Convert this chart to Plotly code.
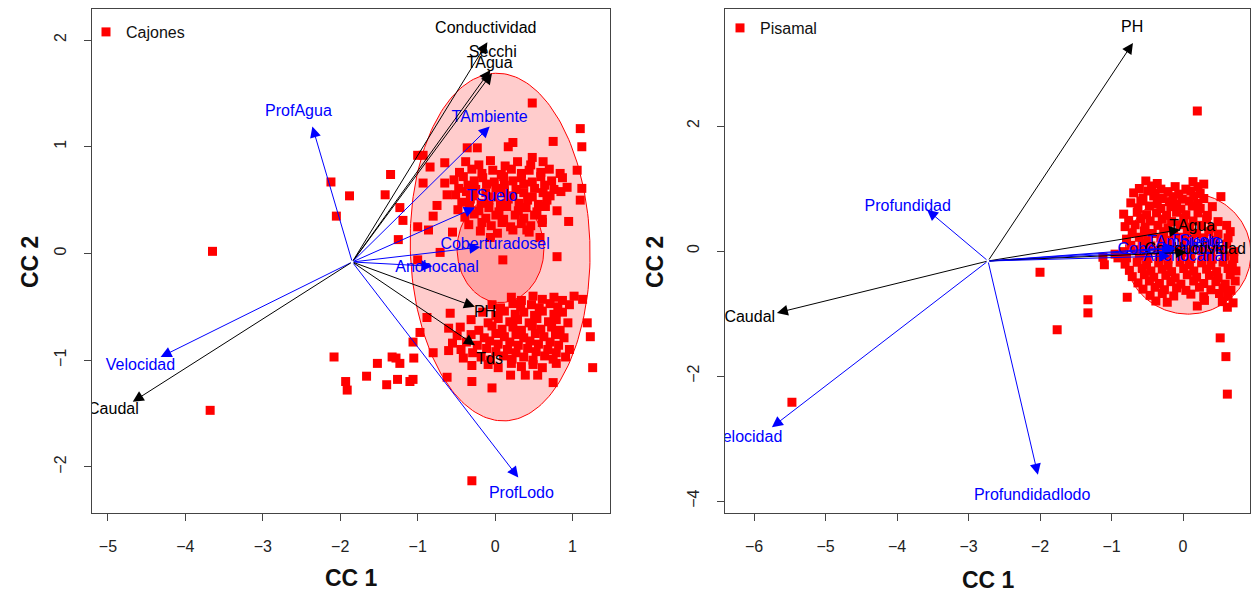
import numpy as np
import plotly.graph_objects as go

W, H = 1253, 592
FONT = "Liberation Sans, Arial, sans-serif"
RED = "#FF0000"
BLACK = "#000000"
BLUE = "#0000FF"

# ---------------- Data: Cajones (left panel) ----------------
cajones_scores = [
    # outliers
    (-3.65, 0.02), (-3.68, -1.47), (-2.12, 0.67), (-2.05, 0.35), (-1.88, 0.54),
    (-2.08, -0.97), (-1.93, -1.20), (-1.91, -1.28), (-1.66, -1.15), (-1.52, -1.03),
    (-1.40, -1.23), (-1.28, -0.98), (-1.10, -1.20), (-1.05, -0.98), (-0.30, -2.13),
    (-1.35, 0.74), (-1.42, 0.55), (-1.23, 0.43), (-1.19, 0.31), (-1.00, 0.25),
    (-0.86, 0.22), (-0.55, 0.20), (-1.25, 0.13), (-1.00, -0.06), (-0.71, 0.01),
    (-1.00, 0.92), (-0.93, 0.92), (-0.84, 0.81), (-0.65, 0.85), (-0.93, 0.66),
    (-0.65, 0.66), (-0.75, 0.45), (-0.62, 0.55), (-0.80, 0.35), (-0.36, 0.99),
    (-0.23, 0.99), (0.17, 1.00), (0.23, 1.04), (0.48, 0.90), (0.62, 0.86),
    (0.48, 1.41), (1.10, 1.17), (1.12, 1.00), (0.93, 0.62), (1.10, 0.50),
    (1.06, 0.78), (1.12, 0.61), (0.80, -0.03), (0.58, 0.15), (0.41, 0.22),
    (-0.06, 0.15), (0.10, -0.06), (0.75, 1.05), (0.95, 0.30),
    # upper group
    (-0.38, 0.86), (-0.21, 0.83), (-0.06, 0.87), (0.13, 0.82), (0.29, 0.86), (0.46, 0.83),
    (-0.46, 0.76), (-0.30, 0.79), (-0.17, 0.75), (-0.03, 0.78), (0.08, 0.74), (0.21, 0.79),
    (0.34, 0.75), (0.44, 0.78), (0.59, 0.76), (0.70, 0.79), (0.84, 0.75),
    (-0.53, 0.69), (-0.41, 0.72), (-0.27, 0.68), (-0.16, 0.71), (-0.01, 0.67), (0.11, 0.72),
    (0.23, 0.68), (0.34, 0.71), (0.48, 0.67), (0.59, 0.72), (0.73, 0.68), (0.87, 0.71),
    (-0.47, 0.61), (-0.35, 0.64), (-0.25, 0.60), (-0.11, 0.65), (0.01, 0.61), (0.12, 0.64),
    (0.27, 0.60), (0.37, 0.65), (0.51, 0.61), (0.64, 0.64), (0.76, 0.60),
    (-0.51, 0.55), (-0.37, 0.58), (-0.27, 0.54), (-0.12, 0.57), (-0.02, 0.53), (0.12, 0.58),
    (0.23, 0.54), (0.37, 0.57), (0.48, 0.53), (0.62, 0.57), (0.71, 0.54), (0.85, 0.58),
    (-0.43, 0.48), (-0.32, 0.51), (-0.18, 0.47), (-0.08, 0.50), (0.07, 0.46), (0.17, 0.51),
    (0.31, 0.47), (0.42, 0.50), (0.56, 0.46), (0.67, 0.50),
    (-0.48, 0.41), (-0.33, 0.44), (-0.21, 0.40), (-0.08, 0.43), (0.05, 0.39), (0.15, 0.44),
    (0.30, 0.40), (0.40, 0.43), (0.54, 0.39), (0.65, 0.44), (0.80, 0.40),
    (-0.39, 0.34), (-0.27, 0.37), (-0.12, 0.33), (0.01, 0.36), (0.11, 0.32), (0.26, 0.36),
    (0.37, 0.33), (0.51, 0.36), (0.61, 0.32),
    (-0.34, 0.27), (-0.17, 0.29), (-0.05, 0.26), (0.09, 0.29), (0.20, 0.25), (0.34, 0.28),
    (0.46, 0.26), (0.61, 0.29),
    (-0.19, 0.21), (0.03, 0.19), (0.23, 0.22), (0.44, 0.20),
    # lower group
    (0.21, -0.41), (0.34, -0.44), (0.49, -0.40), (0.61, -0.43), (0.76, -0.41), (0.87, -0.44),
    (1.02, -0.40), (1.13, -0.43),
    (-0.04, -0.48), (0.07, -0.51), (0.23, -0.47), (0.33, -0.50), (0.47, -0.48), (0.57, -0.51),
    (0.71, -0.47), (0.81, -0.50), (0.96, -0.48),
    (-0.58, -0.56), (-0.88, -0.60), (-0.16, -0.55), (0.01, -0.58), (0.12, -0.54), (0.26, -0.57),
    (0.37, -0.55), (0.51, -0.58), (0.61, -0.54), (0.76, -0.57), (0.87, -0.55),
    (-0.31, -0.62), (-0.09, -0.65), (0.04, -0.61), (0.19, -0.64), (0.29, -0.62), (0.44, -0.65),
    (0.54, -0.61), (0.69, -0.64), (0.79, -0.62), (0.94, -0.65), (1.19, -0.65),
    (-0.60, -0.70), (-0.45, -0.69), (-0.21, -0.72), (-0.04, -0.68), (0.09, -0.71), (0.23, -0.69),
    (0.34, -0.72), (0.48, -0.68), (0.59, -0.71), (0.73, -0.69), (0.84, -0.72),
    (-0.97, -0.74), (-0.49, -0.77), (-0.31, -0.76), (-0.14, -0.79), (0.01, -0.75), (0.12, -0.78),
    (0.27, -0.76), (0.37, -0.79), (0.52, -0.75), (0.63, -0.78), (0.78, -0.76), (0.89, -0.79),
    (1.23, -0.78),
    (-1.06, -0.83), (-0.55, -0.84), (-0.37, -0.83), (-0.23, -0.86), (-0.07, -0.82), (0.04, -0.85),
    (0.19, -0.83), (0.30, -0.86), (0.45, -0.82), (0.56, -0.85), (0.71, -0.83), (0.82, -0.86),
    (-0.80, -0.93), (-0.60, -0.91), (-0.44, -0.90), (-0.29, -0.93), (-0.11, -0.89), (0.01, -0.92),
    (0.16, -0.90), (0.27, -0.93), (0.42, -0.89), (0.53, -0.92), (0.68, -0.90), (0.79, -0.93),
    (0.96, -0.90),
    (-1.33, -0.97), (-0.41, -0.98), (-0.18, -0.97), (-0.06, -1.00), (0.11, -0.96), (0.22, -0.99),
    (0.37, -0.97), (0.49, -1.00), (0.64, -0.96), (0.75, -0.99), (0.91, -0.97),
    (-1.23, -1.03), (-0.30, -1.05), (-0.09, -1.04), (0.04, -1.07), (0.21, -1.03), (0.34, -1.06),
    (0.49, -1.04), (0.61, -1.07), (0.79, -1.03), (1.26, -1.07),
    (-1.06, -1.18), (-1.26, -1.18), (-0.62, -1.16), (0.20, -1.14), (0.39, -1.14), (0.55, -1.14),
    (-0.30, -1.20), (0.75, -1.21), (-0.04, -1.26),
]

cajones_origin = (-1.845, -0.08)
cajones_vars = ["Conductividad", "Secchi", "TAgua", "TAmbiente", "TSuelo", "Coberturadosel",
                "Anchocanal", "PH", "Tds", "ProfLodo", "Velocidad", "Caudal", "ProfAgua"]
cajones_kind = ["q", "q", "q", "h", "h", "h", "h", "q", "q", "h", "h", "q", "h"]
cajones_tip_x = [-0.10, -0.06, -0.04, -0.07, -0.26, -0.19, -0.81, -0.26, -0.26, 0.30, -4.32, -4.68, -2.36]
cajones_tip_y = [1.98, 1.72, 1.69, 1.19, 0.43, 0.06, -0.12, -0.50, -0.86, -2.10, -0.97, -1.39, 1.19]
cajones_lab_x = [-0.12, -0.03, -0.07, -0.07, -0.04, 0.00, -0.75, -0.13, -0.07, 0.34, -4.58, -4.93, -2.54]
cajones_lab_y = [2.10, 1.88, 1.78, 1.27, 0.53, 0.08, -0.14, -0.56, -1.00, -2.25, -1.05, -1.47, 1.33]

# ---------------- Data: Pisamal (right panel) ----------------
pisamal_scores = [
    # outliers
    (0.20, 2.24), (-2.00, -0.34), (-1.76, -1.26), (-1.33, -0.78), (-1.33, -0.99),
    (-1.10, -0.22), (-1.12, -0.10), (-0.91, -0.11), (-0.78, -0.74), (-5.47, -2.42),
    (0.52, -1.39), (0.60, -1.69), (0.62, -2.29), (-0.95, -0.05),
    # main group
    (-0.52, 1.12), (-0.36, 1.08), (0.14, 1.11), (0.29, 1.07),
    (-0.61, 1.00), (-0.44, 1.04), (-0.31, 0.99), (-0.11, 1.03), (0.04, 0.99), (0.21, 1.03),
    (-0.69, 0.93), (-0.49, 0.96), (-0.39, 0.92), (-0.21, 0.95), (-0.06, 0.91), (0.11, 0.96), (0.24, 0.92),
    (-0.56, 0.85), (-0.41, 0.88), (-0.29, 0.84), (-0.14, 0.87), (-0.01, 0.83), (0.15, 0.88), (0.29, 0.84),
    (0.53, 0.87),
    (-0.73, 0.77), (-0.59, 0.80), (-0.36, 0.76), (-0.19, 0.79), (-0.09, 0.75), (0.09, 0.80), (0.21, 0.76),
    (-0.63, 0.69), (-0.47, 0.72), (-0.31, 0.68), (-0.17, 0.71), (-0.03, 0.67), (0.13, 0.72), (0.24, 0.68),
    (0.41, 0.71),
    (-0.83, 0.59), (-0.64, 0.62), (-0.51, 0.58), (-0.37, 0.61), (-0.23, 0.57), (-0.09, 0.62), (0.04, 0.58),
    (0.21, 0.61), (0.34, 0.57),
    (-0.76, 0.49), (-0.59, 0.52), (-0.46, 0.48), (-0.29, 0.51), (-0.16, 0.47), (0.01, 0.52), (0.14, 0.48),
    (0.33, 0.51), (0.49, 0.47),
    (-0.81, 0.39), (-0.67, 0.42), (-0.53, 0.38), (-0.35, 0.41), (-0.21, 0.37), (-0.04, 0.42), (0.09, 0.38),
    (0.26, 0.41), (0.41, 0.37), (0.61, 0.41),
    (-0.71, 0.29), (-0.54, 0.32), (-0.43, 0.28), (-0.27, 0.31), (-0.13, 0.27), (0.06, 0.32), (0.19, 0.28),
    (0.36, 0.31), (0.49, 0.27), (0.66, 0.31),
    (-0.79, 0.19), (-0.61, 0.22), (-0.49, 0.18), (-0.31, 0.21), (-0.19, 0.17), (-0.01, 0.22), (0.11, 0.18),
    (0.29, 0.21), (0.44, 0.17), (0.63, 0.21),
    (-0.73, 0.09), (-0.57, 0.12), (-0.45, 0.08), (-0.29, 0.11), (-0.16, 0.07), (0.01, 0.12), (0.14, 0.08),
    (0.31, 0.11), (0.45, 0.07), (0.61, 0.11),
    (-0.83, -0.01), (-0.65, 0.02), (-0.53, -0.02), (-0.35, 0.01), (-0.23, -0.03), (-0.05, 0.02),
    (0.09, -0.02), (0.26, 0.01), (0.39, -0.03), (0.56, 0.02), (0.71, -0.01),
    (-0.79, -0.11), (-0.61, -0.08), (-0.49, -0.12), (-0.33, -0.09), (-0.21, -0.13), (-0.03, -0.08),
    (0.11, -0.12), (0.28, -0.09), (0.41, -0.13), (0.58, -0.08), (0.71, -0.12),
    (-0.81, -0.21), (-0.64, -0.18), (-0.51, -0.22), (-0.34, -0.19), (-0.21, -0.23), (-0.04, -0.18),
    (0.09, -0.22), (0.26, -0.19), (0.39, -0.23), (0.56, -0.18), (0.69, -0.22),
    (-0.75, -0.31), (-0.57, -0.28), (-0.45, -0.32), (-0.29, -0.29), (-0.16, -0.33), (0.01, -0.28),
    (0.15, -0.32), (0.33, -0.29), (0.47, -0.33), (0.63, -0.28), (0.74, -0.32),
    (-0.71, -0.41), (-0.54, -0.38), (-0.41, -0.42), (-0.24, -0.39), (-0.11, -0.43), (0.06, -0.38),
    (0.19, -0.42), (0.37, -0.39), (0.49, -0.43), (0.66, -0.38),
    (-0.63, -0.51), (-0.47, -0.48), (-0.33, -0.52), (-0.17, -0.49), (-0.03, -0.53), (0.15, -0.48),
    (0.29, -0.52), (0.46, -0.49), (0.59, -0.53), (0.73, -0.48),
    (-0.56, -0.61), (-0.39, -0.58), (-0.26, -0.62), (-0.09, -0.59), (0.04, -0.63), (0.23, -0.58),
    (0.39, -0.62), (0.56, -0.59), (0.67, -0.63),
    (-0.46, -0.71), (-0.29, -0.68), (-0.13, -0.72), (0.11, -0.69), (0.29, -0.73), (0.51, -0.68),
    (0.63, -0.72),
    (-0.38, -0.80), (-0.22, -0.82), (0.30, -0.79), (0.55, -0.81), (0.70, -0.83),
    (0.20, -0.88), (0.62, -0.90),
]

pisamal_origin = (-2.727, -0.16)
pisamal_vars = ["PH", "Profundidad", "Caudal", "Velocidad", "Profundidadlodo", "TAgua",
                "TAmbiente", "TSuelo", "Coberturadosel", "Conductividad", "Anchocanal"]
pisamal_kind = ["q", "h", "q", "h", "h", "q", "h", "h", "h", "q", "h"]
pisamal_tip_x = [-0.70, -3.58, -5.68, -5.75, -2.03, -0.04, -0.12, -0.10, -0.14, 0.05, -0.18]
pisamal_tip_y = [3.33, 0.66, -0.99, -2.82, -3.58, 0.34, 0.06, 0.04, 0.00, -0.02, -0.08]
pisamal_lab_x = [-0.71, -3.85, -6.06, -6.09, -2.11, 0.13, 0.03, 0.17, -0.15, 0.17, 0.03]
pisamal_lab_y = [3.57, 0.70, -1.07, -2.99, -3.92, 0.38, 0.13, 0.14, 0.02, 0.01, -0.10]

# confidence ellipses: (center x, center y, semi x, semi y, rotation deg)
cajones_ellipses = [(0.065, 0.06, 1.16, 1.63, 3.0), (0.07, 0.04, 0.56, 0.50, 0.0)]
pisamal_ellipses = [(0.07, -0.04, 0.88, 0.97, 0.0)]

KIND_COLOR = {"q": BLACK, "h": BLUE}

# ---------------- Layout geometry ----------------
left_px = (92, 610)
right_px = (725, 1250)
top_px, bottom_px = 9, 513
ydom = [1 - bottom_px / H, 1 - top_px / H]

fig = go.Figure()


def ellipse_xy(cx, cy, a, b, rot, n=200):
    t = np.linspace(0, 2 * np.pi, n)
    th = np.deg2rad(rot)
    ex = a * np.cos(t)
    ey = b * np.sin(t)
    return cx + ex * np.cos(th) - ey * np.sin(th), cy + ex * np.sin(th) + ey * np.cos(th)


def add_panel(xa, ya, scores, ellipses, origin, names, kinds, tx, ty, lx, ly, legend_name, legend_id):
    for (cx, cy, a, b, rot) in ellipses:
        ex, ey = ellipse_xy(cx, cy, a, b, rot)
        fig.add_trace(go.Scatter(x=ex, y=ey, xaxis=xa, yaxis=ya, mode="lines", fill="toself",
                                 fillcolor="rgba(255,0,0,0.2)", line=dict(color=RED, width=1),
                                 showlegend=False, hoverinfo="skip"))
    px_ = [p[0] for p in scores]
    py_ = [p[1] for p in scores]
    fig.add_trace(go.Scatter(x=px_, y=py_, xaxis=xa, yaxis=ya, mode="markers", name=legend_name,
                             marker=dict(symbol="square", size=9, color=RED, line=dict(width=0)),
                             legend=legend_id, showlegend=True))
    ox, oy = origin
    for i in range(len(names)):
        col = KIND_COLOR[kinds[i]]
        fig.add_annotation(x=tx[i], y=ty[i], ax=ox, ay=oy, xref=xa, yref=ya, axref=xa, ayref=ya,
                           text="", showarrow=True, arrowhead=2, arrowsize=2.2, arrowwidth=1,
                           arrowcolor=col, standoff=0, startstandoff=0)
    for kind in ("h", "q"):
        idx = [i for i in range(len(names)) if kinds[i] == kind]
        fig.add_trace(go.Scatter(x=[lx[i] for i in idx], y=[ly[i] for i in idx], xaxis=xa, yaxis=ya,
                                 mode="text", text=[names[i] for i in idx],
                                 textfont=dict(family=FONT, size=16, color=KIND_COLOR[kind]),
                                 textposition="middle center", showlegend=False, hoverinfo="skip",
                                 cliponaxis=True))


add_panel("x", "y", cajones_scores, cajones_ellipses, cajones_origin, cajones_vars, cajones_kind,
          cajones_tip_x, cajones_tip_y, cajones_lab_x, cajones_lab_y, "Cajones", "legend")
add_panel("x2", "y2", pisamal_scores, pisamal_ellipses, pisamal_origin, pisamal_vars, pisamal_kind,
          pisamal_tip_x, pisamal_tip_y, pisamal_lab_x, pisamal_lab_y, "Pisamal", "legend2")


def axis(rng, tickvals, domain, anchor, angle=0, standoff=10):
    return dict(range=rng, autorange=False, domain=domain, anchor=anchor, tickmode="array",
                tickvals=tickvals, ticks="outside", ticklen=7, tickwidth=1, tickcolor="#444",
                showline=True, linecolor="#444", linewidth=1.2, mirror=True, showgrid=False,
                zeroline=False, tickangle=angle, ticklabelstandoff=standoff, automargin=False,
                tickfont=dict(family=FONT, size=16, color="#222"))


# axis ranges derived from the pixel frame of each panel
lx0, lx1 = -5.206, 1.484
ly0, ly1 = -2.432, 2.291
rx0, rx1 = -6.406, 0.937
ry0, ry1 = -4.192, 3.872

fig.update_layout(
    width=W, height=H, margin=dict(l=0, r=0, t=0, b=0),
    paper_bgcolor="white", plot_bgcolor="white",
    xaxis=axis([lx0, lx1], [-5, -4, -3, -2, -1, 0, 1], [left_px[0] / W, left_px[1] / W], "y", 0, 12),
    yaxis=axis([ly0, ly1], [-2, -1, 0, 1, 2], ydom, "x", -90, 12),
    xaxis2=axis([rx0, rx1], [-6, -5, -4, -3, -2, -1, 0], [right_px[0] / W, right_px[1] / W], "y2", 0, 12),
    yaxis2=axis([ry0, ry1], [-4, -2, 0, 2], ydom, "x2", -90, 12),
    legend=dict(x=86 / W, y=1 - 32 / H, xanchor="left", yanchor="middle", bgcolor="rgba(0,0,0,0)",
                font=dict(family=FONT, size=16, color="#111"), itemwidth=30),
    legend2=dict(x=720 / W, y=1 - 28 / H, xanchor="left", yanchor="middle", bgcolor="rgba(0,0,0,0)",
                 font=dict(family=FONT, size=16, color="#111"), itemwidth=30),
    showlegend=True,
)

title_font = dict(family=FONT, size=23, color="#111")
fig.add_annotation(text="<b>CC 1</b>", x=351 / W, y=1 - 578 / H, xref="paper", yref="paper",
                   showarrow=False, font=title_font, xanchor="center", yanchor="middle")
fig.add_annotation(text="<b>CC 2</b>", x=30 / W, y=1 - 262 / H, xref="paper", yref="paper",
                   showarrow=False, font=title_font, xanchor="center", yanchor="middle", textangle=-90)
fig.add_annotation(text="<b>CC 1</b>", x=988 / W, y=1 - 580 / H, xref="paper", yref="paper",
                   showarrow=False, font=title_font, xanchor="center", yanchor="middle")
fig.add_annotation(text="<b>CC 2</b>", x=655 / W, y=1 - 262 / H, xref="paper", yref="paper",
                   showarrow=False, font=title_font, xanchor="center", yanchor="middle", textangle=-90)

fig.write_html("out.html", config={"displayModeBar": False},
               post_script="document.body.style.margin='0px';document.body.style.overflow='hidden';")
